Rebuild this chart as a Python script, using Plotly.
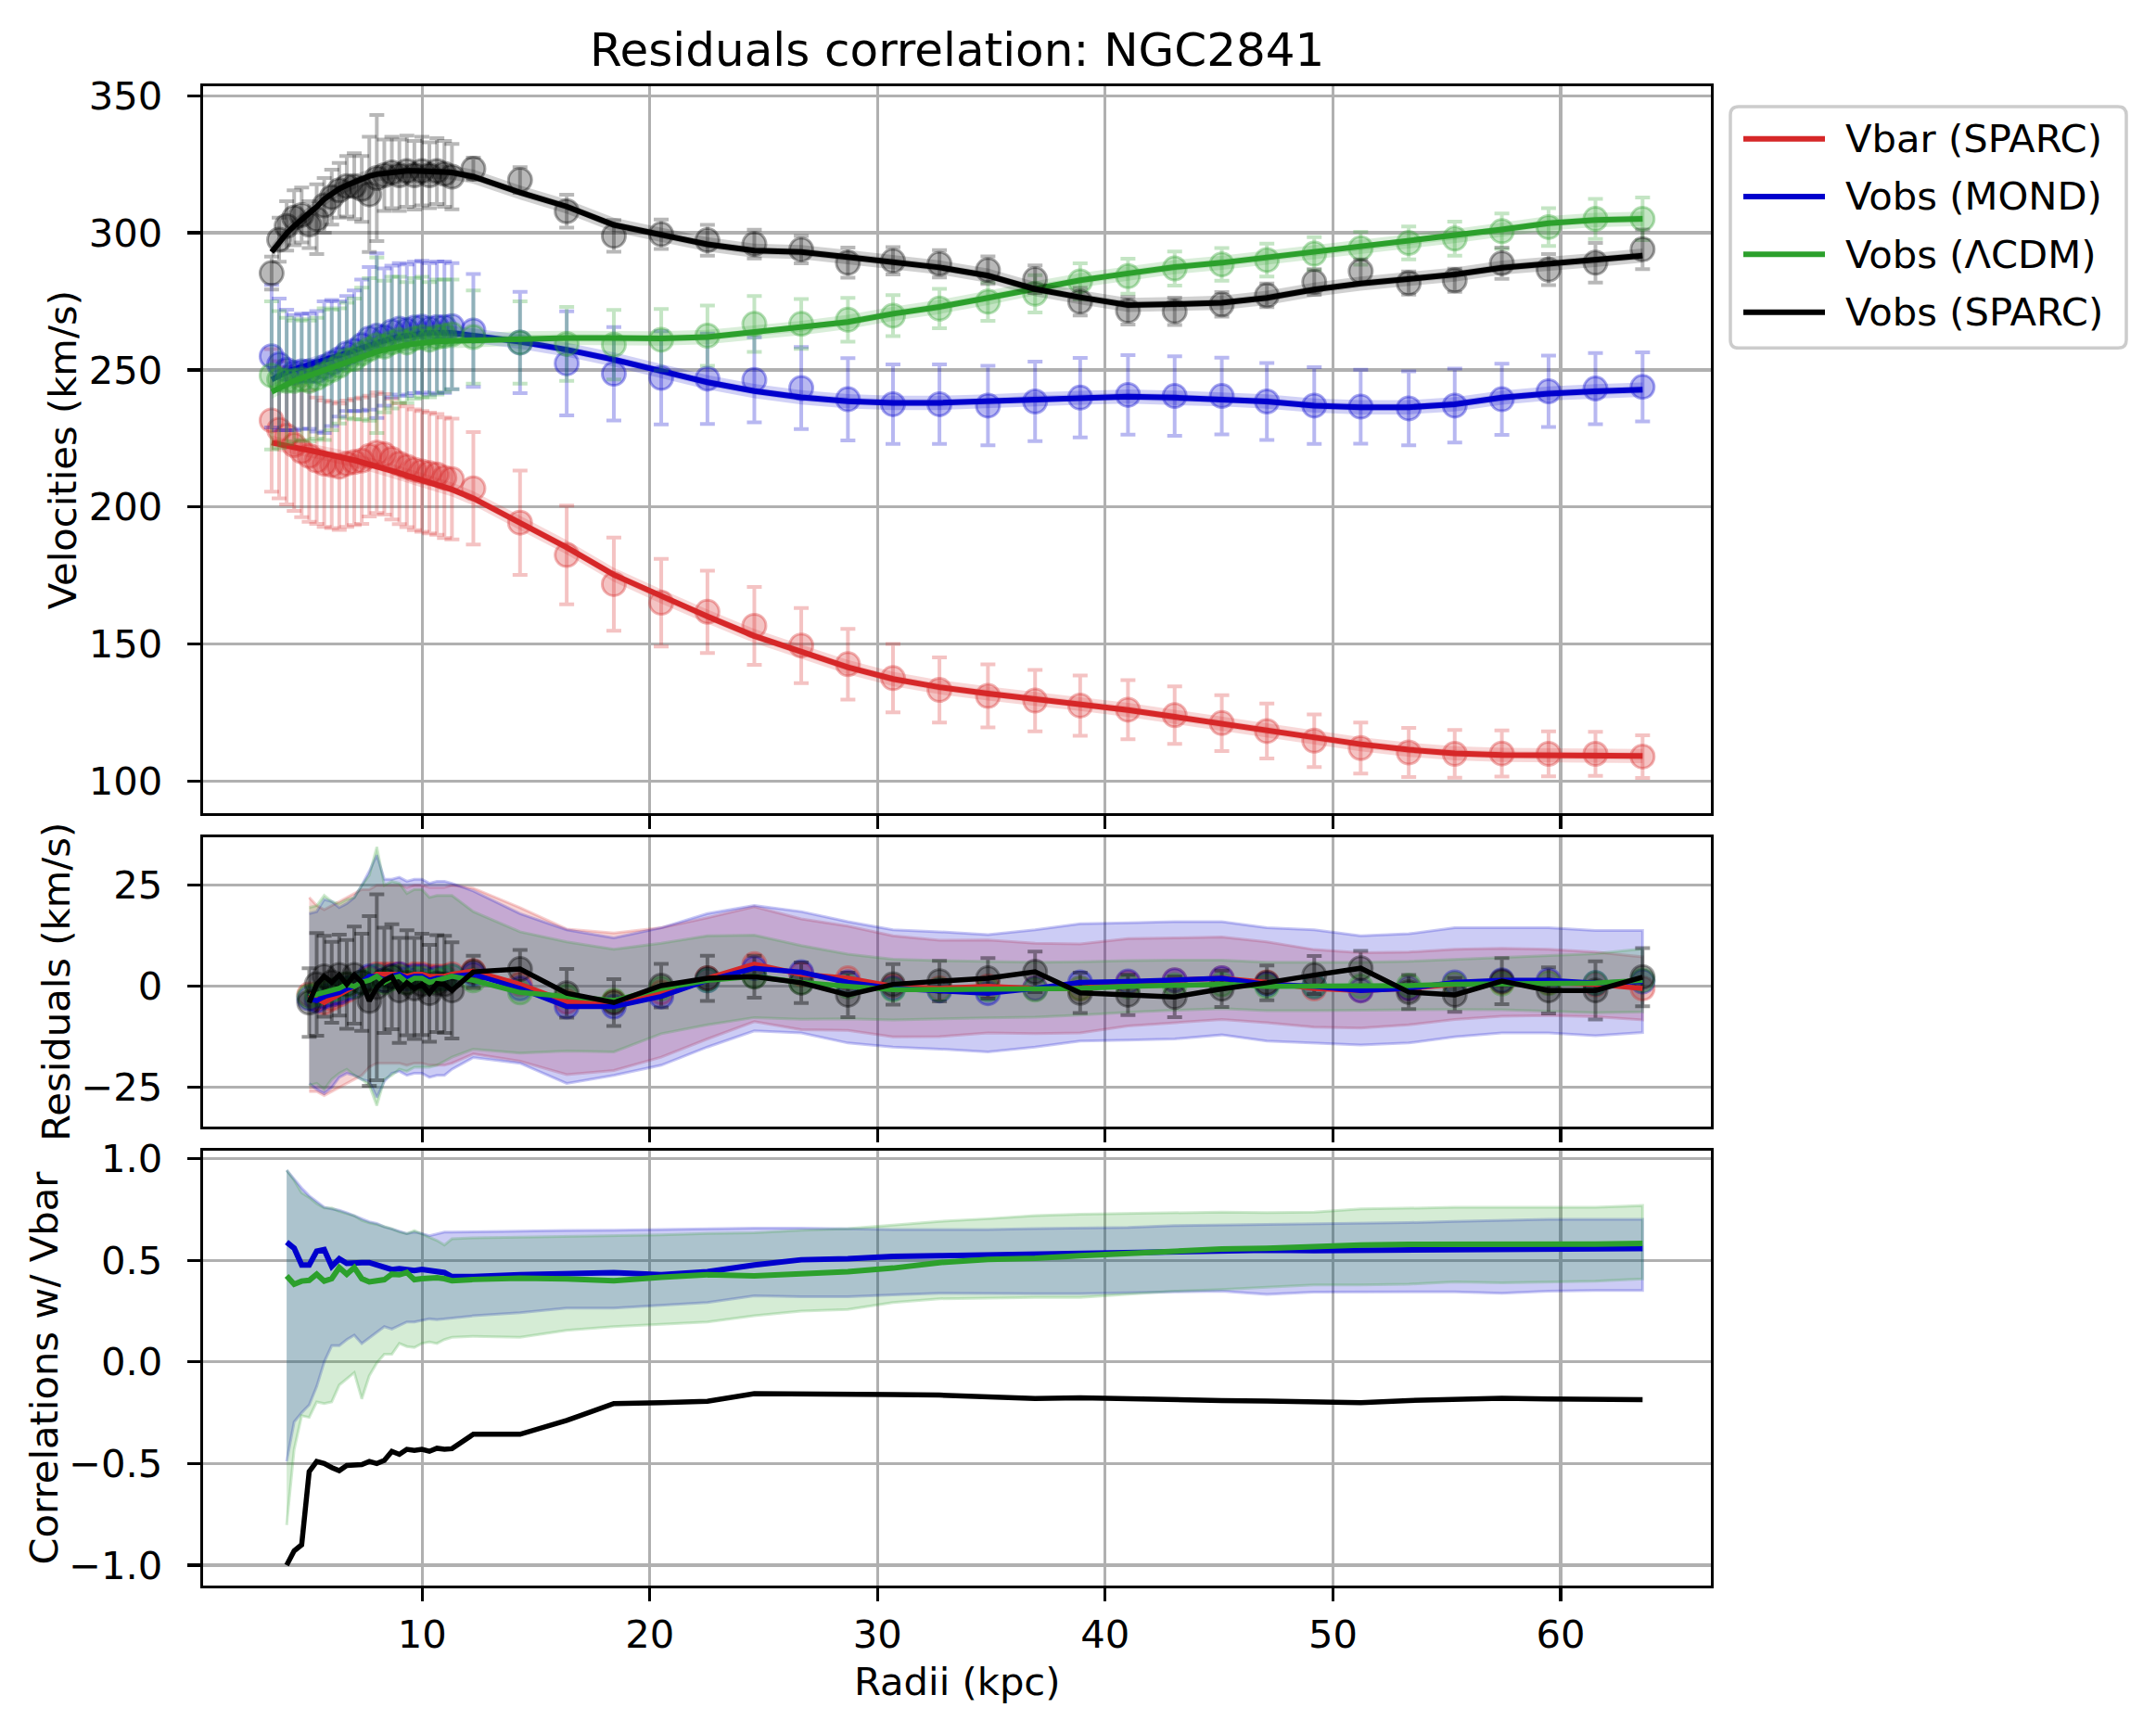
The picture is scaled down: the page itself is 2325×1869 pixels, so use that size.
import plotly.graph_objects as go

W, H = 2325, 1869

# ---------------- data ----------------
radii = [3.39, 3.72, 4.05, 4.38, 4.71, 5.04, 5.37, 5.70, 6.03, 6.36, 6.69, 7.02, 7.35, 7.68, 8.01,
         8.34, 8.67, 9.00, 9.33, 9.66, 9.99, 10.32, 10.65, 10.98, 11.31,
         12.25, 14.30, 16.35, 18.42, 20.50, 22.53, 24.59, 26.65, 28.70, 30.68, 32.72, 34.85, 36.92,
         38.90, 41.00, 43.05, 45.12, 47.10, 49.18, 51.22, 53.33, 55.35, 57.42, 59.47, 61.53, 63.60]

# Vbar (SPARC)
vbar = [231.6, 228.2, 226.0, 222.6, 220.3, 218.6, 216.9, 215.8, 215.3, 214.7, 215.8, 216.4, 216.9,
        218.6, 219.8, 219.2, 217.5, 215.8, 214.7, 213.6, 213.0, 212.4, 211.9, 210.7, 210.2,
        206.8, 194.3, 182.5, 171.9, 165.1, 161.8, 156.7, 149.5, 142.7, 137.6, 133.3, 131.1, 129.4,
        127.6, 126.1, 124.1, 121.2, 118.3, 114.8, 112.1, 110.5, 110.0, 110.1, 110.0, 110.0, 109.0]
vbar_err = [26, 25, 25, 24, 24, 24, 23, 23, 23, 23, 23, 23, 23, 22, 22, 22, 22, 22, 22, 22, 22, 22,
            22, 22, 22,
            20.5, 19, 18, 17, 16, 15, 14.2, 13.7, 12.9, 12.5, 11.9, 11.5, 11.2, 11, 10.8, 10.5, 10.2,
            10, 9.6, 9.3, 9.0, 8.7, 8.4, 8.2, 8.0, 7.8]
vbar_fit = [223.5, 222.8, 222.2, 221.7, 221.2, 220.7, 220.2, 219.6, 219.0, 218.4, 217.7, 217.1, 216.4,
            215.6, 214.8, 214.0, 213.2, 212.4, 211.5, 210.6, 209.8, 209.0, 208.1, 207.2, 206.4,
            203.2, 194.2, 185.3, 175.3, 167.4, 160.1, 153.0, 147.2, 141.6, 137.3, 134.3, 132.0, 130.0,
            128.2, 126.0, 123.5, 121.0, 118.5, 116.0, 113.5, 111.5, 110.2, 109.6, 109.4, 109.3, 109.2]

# Vobs (MOND)
mond = [255.0, 252.0, 250.0, 249.0, 249.5, 249.5, 249.5, 251.0, 252.5, 254.0, 256.0, 257.0, 259.0,
        261.5, 262.5, 262.0, 264.0, 265.0, 264.5, 265.5, 265.8, 265.0, 265.6, 265.6, 266.0,
        264.4, 260.0, 252.4, 248.6, 247.1, 246.8, 246.4, 243.4, 239.3, 237.5, 237.5, 237.0, 238.5,
        239.9, 240.9, 240.5, 240.5, 238.5, 237.0, 236.6, 236.0, 237.0, 239.3, 242.2, 243.2, 243.8]
mond_err = [26, 24, 22, 21, 21, 21, 22, 24, 23, 21, 21, 22, 24, 26, 30, 25, 24, 24, 24, 24, 24, 24,
            24, 24, 23,
            20.6, 18.5, 19, 17, 17, 16.5, 15.5, 15, 15, 14.5, 14.5, 14.5, 14.5, 14.5, 14.5, 14.5, 14,
            14, 14, 13.5, 13.5, 13.5, 13, 13, 13, 12.6]
mond_fit = [246.5, 248.0, 249.2, 250.2, 251.0, 251.8, 252.6, 253.4, 254.3, 255.2, 256.1, 257.0, 258.0,
            259.0, 260.0, 260.8, 261.5, 262.1, 262.6, 263.0, 263.3, 263.5, 263.6, 263.6, 263.5,
            262.5, 260.3, 257.4, 253.8, 249.6, 245.5, 242.3, 240.0, 238.6, 238.0, 238.0, 238.5, 239.3,
            239.9, 240.3, 239.9, 239.3, 238.5, 237.0, 236.4, 236.4, 237.5, 239.9, 241.4, 242.2, 242.8]

# Vobs (LCDM)
lcdm = [248.0, 246.5, 246.0, 246.0, 246.5, 246.0, 247.0, 248.5, 250.0, 251.5, 253.5, 254.0, 256.0,
        257.5, 259.0, 258.5, 260.0, 261.0, 260.0, 261.5, 262.0, 261.0, 262.0, 262.5, 263.0,
        262.0, 260.0, 259.5, 259.2, 261.0, 262.5, 266.8, 266.8, 268.3, 269.8, 272.4, 274.9, 277.8,
        282.3, 284.2, 287.0, 288.5, 290.1, 292.4, 294.4, 296.3, 297.9, 300.6, 302.1, 305.1, 305.1]
lcdm_err = [27, 25, 23, 22, 22, 22, 22, 24, 22, 21, 21, 22, 24, 26, 32, 24, 24, 23, 22, 22, 22, 21,
            21, 20.5, 20,
            17, 15, 13.5, 12.7, 11.2, 11, 10.2, 9.1, 8, 7.5, 7.2, 7.0, 6.8, 6.6, 6.4, 6.2, 6.0, 6.0,
            6.0, 6.0, 6.0, 6.2, 6.5, 6.9, 7.3, 7.8]
lcdm_fit = [242.0, 243.5, 244.8, 246.0, 247.0, 248.0, 249.0, 250.0, 251.0, 252.0, 253.0, 254.0, 254.9,
            255.8, 256.6, 257.3, 258.0, 258.6, 259.1, 259.5, 259.9, 260.2, 260.4, 260.5, 260.6,
            260.8, 261.5, 261.7, 261.7, 261.5, 262.0, 263.7, 265.3, 267.5, 270.5, 273.0, 276.3, 279.8,
            282.7, 285.2, 287.5, 289.1, 291.0, 293.0, 294.9, 296.9, 298.8, 301.2, 303.5, 304.7, 305.1]

# Vobs (SPARC)
vobs = [285.3, 297.5, 302.5, 305.5, 306.5, 303.0, 305.0, 310.0, 313.0, 315.5, 317.0, 317.0, 316.0,
        314.0, 320.0, 321.0, 322.0, 321.0, 322.5, 321.0, 322.5, 321.0, 322.5, 321.5, 320.5,
        323.4, 319.3, 307.9, 298.9, 299.5, 297.3, 295.9, 293.9, 289.1, 289.8, 288.7, 286.4, 283.1,
        274.9, 271.6, 271.4, 273.9, 277.2, 282.1, 286.0, 281.7, 282.7, 288.9, 286.6, 289.1, 294.0]
vobs_err = [6, 8, 9, 10, 10, 8.5, 12.7, 10, 10, 10, 11, 12, 12, 21, 23, 13, 13, 13, 13, 12.5, 12.5, 12,
            12, 12, 11.9,
            4, 4.7, 6, 5.8, 5.4, 5.6, 5.2, 5, 5.5, 5, 5, 5, 5, 5, 5, 5, 4.5, 4.3, 4.7, 4.3, 4.2, 4.2,
            5.7, 5.7, 7.2, 7.2]
vobs_fit = [293.0, 296.6, 299.8, 302.5, 304.8, 307.0, 309.5, 312.3, 314.4, 316.1, 317.4, 318.6, 319.7,
            320.7, 321.4, 321.8, 322.1, 322.4, 322.6, 322.6, 322.6, 322.5, 322.4, 322.2, 322.0,
            320.5, 314.7, 309.6, 302.9, 299.3, 295.8, 293.5, 293.0, 291.2, 289.3, 287.4, 284.4, 279.5,
            276.5, 273.7, 274.0, 274.5, 276.3, 279.3, 281.5, 283.1, 284.8, 287.3, 288.6, 290.1, 291.7]

# half-widths (km/s) of the two uncertainty bands drawn around each fitted curve
fit_band_inner = 1.3
fit_band_outer = 2.6

# residuals (km/s), from the 6th radius onward
res_vbar = [-2, -3, -4, -3, -2, -1, 0, 1, 2, 3, 3, 3, 3, 2.5, 3, 3, 2.5, 2.5, 2.5, 3,
            3.8, 0.5, -3.8, -3.8, -1.5, 2.0, 5.5, 3.0, 2.0, 0.0, -0.5, 0.0, -0.5, -0.5, 1.0, 1.5,
            2.0, 1.0, -0.5, -1.0, -0.5, 0.5, 1.0, 1.0, 0.5, -0.5]
res_mond = [-3, -3.5, -2.5, -2, -1.5, -0.5, 0, 1, 2.5, 2.5, 1.5, 2.5, 3, 2, 2.5, 2.5, 1.5, 2, 2, 2.5,
            3.0, -0.5, -5.0, -5.0, -2.5, 1.5, 4.5, 3.5, 1.0, -0.5, -1.0, -1.7, -0.5, 1.0, 1.2, 1.5,
            2.0, 0.5, 0.0, -1.0, -0.5, 1.0, 1.5, 1.5, 0.8, 1.2]
res_lcdm = [-2.5, -2, -1.5, -1, -0.5, 0.5, 0, 1, 1.5, 2.5, 1, 2, 2.5, 1, 2, 2, 1, 1.5, 2, 2.5,
            1.5, -1.5, -2.5, -3.5, -0.5, 1.5, 2.5, 1.0, 0.0, -0.8, -0.8, -0.8, -0.8, -0.5, 0.0, 0.3,
            0.5, 0.0, 0.0, 0.0, 0.2, 0.5, 0.7, 0.8, 0.8, 1.5]
res_vobs = [-4, 0.5, 2.5, 1, 2.8, 0.5, 2.8, 1.0, -3.6, -0.2, 1.5, 2.4, -1, 0.9, -0.5, 0.5, -1.7, 0.7,
            0.5, -1,
            3.6, 4.3, -1.7, -4.0, 0.2, 2.0, 2.4, 0.9, -2.1, 0.5, 1.3, 2.0, 3.6, -1.6, -2.1, -2.6,
            -0.6, 0.9, 2.8, 4.5, -1.4, -2.1, 1.3, -1.0, -1.0, 2.3]

# correlations with Vbar, from the 3rd radius onward
corr_mond = [0.59, 0.56, 0.477, 0.477, 0.545, 0.553, 0.47, 0.508, 0.485, 0.49, 0.489, 0.489, 0.48,
             0.47, 0.455, 0.459, 0.455, 0.45, 0.455, 0.45, 0.445, 0.44, 0.42,
             0.42, 0.43, 0.435, 0.44, 0.43, 0.444, 0.477, 0.503, 0.508, 0.52, 0.523, 0.527, 0.535,
             0.541, 0.545, 0.545, 0.55, 0.55, 0.548, 0.55, 0.55, 0.55, 0.553, 0.558, 0.56, 0.558]
corr_mond_lo = [-0.49, -0.295, -0.25, -0.212, -0.121, 0.0, 0.08, 0.08, 0.11, 0.132, 0.091, 0.121,
                0.147, 0.174, 0.162, 0.18, 0.197, 0.197, 0.205, 0.212, 0.208, 0.212, 0.217,
                0.227, 0.242, 0.265, 0.265, 0.28, 0.292, 0.326, 0.321, 0.321, 0.33, 0.338, 0.338,
                0.336, 0.336, 0.341, 0.345, 0.348, 0.333, 0.344, 0.344, 0.345, 0.345, 0.338, 0.348,
                0.352, 0.352]
corr_mond_hi = [0.944, 0.90, 0.856, 0.818, 0.788, 0.762, 0.753, 0.747, 0.735, 0.72, 0.705, 0.69,
                0.682, 0.665, 0.655, 0.645, 0.632, 0.639, 0.632, 0.621, 0.629, 0.639, 0.639,
                0.641, 0.644, 0.647, 0.648, 0.652, 0.656, 0.659, 0.659, 0.655, 0.652, 0.652, 0.652,
                0.656, 0.659, 0.662, 0.671, 0.674, 0.677, 0.679, 0.682, 0.686, 0.692, 0.697, 0.702,
                0.702, 0.702]
corr_lcdm = [0.424, 0.383, 0.398, 0.402, 0.432, 0.398, 0.41, 0.465, 0.432, 0.465, 0.41, 0.394, 0.40,
             0.405, 0.432, 0.429, 0.44, 0.405, 0.41, 0.414, 0.414, 0.41, 0.40,
             0.406, 0.412, 0.409, 0.40, 0.417, 0.429, 0.424, 0.432, 0.444, 0.462, 0.489, 0.505, 0.51,
             0.523, 0.535, 0.545, 0.556, 0.56, 0.571, 0.576, 0.579, 0.579, 0.576, 0.579, 0.58, 0.583]
corr_lcdm_lo = [-0.803, -0.432, -0.265, -0.273, -0.197, -0.205, -0.197, -0.114, -0.083, -0.053,
                -0.182, -0.068, -0.005, 0.038, 0.038, 0.091, 0.076, 0.071, 0.091, 0.098, 0.091,
                0.11, 0.121,
                0.126, 0.121, 0.156, 0.174, 0.186, 0.197, 0.227, 0.25, 0.258, 0.292, 0.311, 0.314,
                0.318, 0.318, 0.333, 0.348, 0.356, 0.368, 0.379, 0.379, 0.383, 0.394, 0.389, 0.394,
                0.398, 0.409]
corr_lcdm_hi = [0.944, 0.894, 0.833, 0.81, 0.78, 0.758, 0.758, 0.742, 0.73, 0.72, 0.697, 0.685,
                0.677, 0.665, 0.656, 0.64, 0.632, 0.647, 0.629, 0.614, 0.598, 0.576, 0.606,
                0.611, 0.614, 0.617, 0.621, 0.626, 0.632, 0.636, 0.648, 0.656, 0.674, 0.692, 0.705,
                0.72, 0.727, 0.73, 0.735, 0.738, 0.735, 0.738, 0.753, 0.758, 0.761, 0.761, 0.761,
                0.762, 0.77]
corr_vobs = [-1.0, -0.93, -0.90, -0.54, -0.49, -0.50, -0.52, -0.535, -0.51, -0.51, -0.505, -0.49,
             -0.50, -0.485, -0.44, -0.455, -0.43, -0.435, -0.43, -0.44, -0.425, -0.43, -0.427,
             -0.356, -0.356, -0.288, -0.205, -0.20, -0.194, -0.156, -0.156, -0.159, -0.16, -0.163,
             -0.17, -0.18, -0.176, -0.182, -0.19, -0.19, -0.192, -0.194, -0.20, -0.19, -0.182,
             -0.179, -0.182, -0.185, -0.186]

labels = ["Vbar (SPARC)", "Vobs (MOND)", "Vobs (\u039bCDM)", "Vobs (SPARC)"]
x_ticks = [10, 20, 30, 40, 50, 60]
v_ticks = [100, 150, 200, 250, 300, 350]
res_ticks = [-25, 0, 25]
corr_ticks = [-1.0, -0.5, 0.0, 0.5, 1.0]

n = len(radii)
for arr in (vbar, vbar_err, vbar_fit, mond, mond_err, mond_fit, lcdm, lcdm_err, lcdm_fit,
            vobs, vobs_err, vobs_fit):
    assert len(arr) == n, len(arr)
for arr in (res_vbar, res_mond, res_lcdm, res_vobs):
    assert len(arr) == n - 5, len(arr)
for arr in (corr_mond, corr_mond_lo, corr_mond_hi, corr_lcdm, corr_lcdm_lo, corr_lcdm_hi, corr_vobs):
    assert len(arr) == n - 2, len(arr)

# ---------------- styling ----------------
RED = (214, 39, 40)
BLUE = (0, 0, 205)
GREEN = (44, 160, 44)
BLACK = (0, 0, 0)
FONT = "DejaVu Sans"
FS = 41.7


def rgba(c, a):
    return f"rgba({c[0]},{c[1]},{c[2]},{a})"


def px_x(x):
    return x / W


def px_y(y):
    return 1 - y / H


fig = go.Figure()


def band(x, lo, hi, c, xa, ya, fill_a=0.2, edge_a=0.0, edge_w=0):
    fig.add_trace(go.Scatter(
        x=list(x) + list(x)[::-1], y=list(hi) + list(lo)[::-1], mode="lines",
        fill="toself", fillcolor=rgba(c, fill_a),
        line=dict(color=rgba(c, edge_a), width=edge_w),
        hoverinfo="skip", showlegend=False, xaxis=xa, yaxis=ya))


series = [
    (labels[0], vbar, vbar_err, vbar_fit, res_vbar, RED),
    (labels[1], mond, mond_err, mond_fit, res_mond, BLUE),
    (labels[2], lcdm, lcdm_err, lcdm_fit, res_lcdm, GREEN),
    (labels[3], vobs, vobs_err, vobs_fit, res_vobs, BLACK),
]

# ---------------- top panel ----------------
for name, d, e, f, res, c in series:
    fig.add_trace(go.Scatter(
        x=radii, y=d, mode="markers", name=name, showlegend=False,
        marker=dict(size=25, color=rgba(c, 0.28), line=dict(color=rgba(c, 0.35), width=3)),
        error_y=dict(type="data", array=e, visible=True, color=rgba(c, 0.28), thickness=4, width=8),
        xaxis="x", yaxis="y"))
    for w in (fit_band_outer, fit_band_inner):
        band(radii, [v - w for v in f], [v + w for v in f], c, "x", "y", fill_a=0.18)
    fig.add_trace(go.Scatter(
        x=radii, y=f, mode="lines", name=name, showlegend=False,
        line=dict(color=rgba(c, 1), width=6), xaxis="x", yaxis="y"))

# ---------------- middle panel ----------------
rx = radii[5:]
for name, d, e, f, res, c in series[:3]:
    ee = e[5:]
    band(rx, [r - s for r, s in zip(res, ee)], [r + s for r, s in zip(res, ee)], c, "x2", "y2",
         fill_a=0.2, edge_a=0.22, edge_w=3)
for name, d, e, f, res, c in series:
    kw = {}
    if c == BLACK:
        kw["error_y"] = dict(type="data", array=e[5:], visible=True, color=rgba(c, 0.4),
                             thickness=4, width=8)
    fig.add_trace(go.Scatter(
        x=rx, y=res, mode="markers", showlegend=False,
        marker=dict(size=25, color=rgba(c, 0.3), line=dict(color=rgba(c, 0.35), width=3)),
        xaxis="x2", yaxis="y2", **kw))
for name, d, e, f, res, c in series:
    fig.add_trace(go.Scatter(
        x=rx, y=res, mode="lines", showlegend=False,
        line=dict(color=rgba(c, 1), width=5.5), xaxis="x2", yaxis="y2"))

# ---------------- bottom panel ----------------
cx = radii[2:]
band(cx, corr_mond_lo, corr_mond_hi, BLUE, "x3", "y3", fill_a=0.2, edge_a=0.22, edge_w=3)
band(cx, corr_lcdm_lo, corr_lcdm_hi, GREEN, "x3", "y3", fill_a=0.2, edge_a=0.22, edge_w=3)
fig.add_trace(go.Scatter(x=cx, y=corr_mond, mode="lines", showlegend=False,
                         line=dict(color=rgba(BLUE, 1), width=6), xaxis="x3", yaxis="y3"))
fig.add_trace(go.Scatter(x=cx, y=corr_lcdm, mode="lines", showlegend=False,
                         line=dict(color=rgba(GREEN, 1), width=6), xaxis="x3", yaxis="y3"))
fig.add_trace(go.Scatter(x=cx, y=corr_vobs, mode="lines", showlegend=False,
                         line=dict(color=rgba(BLACK, 1), width=5.5), xaxis="x3", yaxis="y3"))

# ---------------- axes ----------------
axis_common = dict(
    showline=True, linecolor="black", linewidth=3.3, mirror=True,
    ticks="outside", ticklen=14, tickwidth=3.3, tickcolor="black",
    showgrid=True, gridcolor="#b0b0b0", gridwidth=3.3, zeroline=False,
    tickfont=dict(family=FONT, size=FS, color="black"),
)
x_dom = [px_x(219), px_x(1845)]
x_rng = [0.38, 66.6]
top_dom = [px_y(870), px_y(78)]
mid_dom = [px_y(1211), px_y(896)]
bot_dom = [px_y(1711), px_y(1238)]

fig.update_layout(
    width=W, height=H, margin=dict(l=0, r=0, t=0, b=0),
    paper_bgcolor="white", plot_bgcolor="white", showlegend=False,
    xaxis=dict(axis_common, domain=x_dom, range=x_rng, anchor="y", tickvals=x_ticks,
               showticklabels=False),
    xaxis2=dict(axis_common, domain=x_dom, range=x_rng, anchor="y2", tickvals=x_ticks,
                showticklabels=False),
    xaxis3=dict(axis_common, domain=x_dom, range=x_rng, anchor="y3", tickvals=x_ticks),
    yaxis=dict(axis_common, domain=top_dom, range=[88.3, 353.4], anchor="x", tickvals=v_ticks,
               ticklabelstandoff=18),
    yaxis2=dict(axis_common, domain=mid_dom, range=[-34.6, 36.9], anchor="x2", tickvals=res_ticks,
                ticklabelstandoff=18),
    yaxis3=dict(axis_common, domain=bot_dom, range=[-1.099, 1.038], anchor="x3",
                tickvals=corr_ticks, tickformat=".1f", ticklabelstandoff=18),
)

# ---------------- text ----------------
ann = []
ann.append(dict(text="Residuals correlation: NGC2841", x=px_x(1032), y=px_y(38), xref="paper",
                yref="paper", showarrow=False, xanchor="center", yanchor="middle",
                font=dict(family=FONT, size=50, color="black")))
ann.append(dict(text="Radii (kpc)", x=px_x(1032), y=px_y(1816), xref="paper", yref="paper",
                showarrow=False, xanchor="center", yanchor="middle",
                font=dict(family=FONT, size=FS, color="black")))
for txt, xc, ys in (("Velocities (km/s)", 67, (78 + 870) / 2),
                    ("Residuals (km/s)", 61, (896 + 1211) / 2),
                    ("Correlations w/ Vbar", 48, (1238 + 1711) / 2)):
    ann.append(dict(text=txt, x=px_x(xc), y=px_y(ys), xref="paper", yref="paper", showarrow=False,
                    xanchor="center", yanchor="middle", textangle=-90,
                    font=dict(family=FONT, size=FS, color="black")))

# legend (drawn manually to match the reference's layout)
lx0, lx1, ly0, ly1 = 1866, 2293, 100, 363
r_px = 9
rxp, ryp = r_px / W, r_px / H
X0, X1, Y0, Y1 = px_x(lx0), px_x(lx1), px_y(ly1), px_y(ly0)
path = (f"M{X0 + rxp},{Y0} L{X1 - rxp},{Y0} Q{X1},{Y0} {X1},{Y0 + ryp} L{X1},{Y1 - ryp} "
        f"Q{X1},{Y1} {X1 - rxp},{Y1} L{X0 + rxp},{Y1} Q{X0},{Y1} {X0},{Y1 - ryp} "
        f"L{X0},{Y0 + ryp} Q{X0},{Y0} {X0 + rxp},{Y0} Z")
shapes = [dict(type="path", path=path, xref="paper", yref="paper",
               line=dict(color="rgba(204,204,204,1)", width=3.5), fillcolor="rgba(255,255,255,0.8)")]
for k, (name, d, e, f, res, c) in enumerate(series):
    yy = px_y(135 + 63 * k)
    shapes.append(dict(type="line", xref="paper", yref="paper", x0=px_x(1880), x1=px_x(1968),
                       y0=yy, y1=yy, line=dict(color=rgba(c, 1), width=6)))
    ann.append(dict(text=name, x=px_x(1988), y=yy, xref="paper", yref="paper", showarrow=False,
                    xanchor="left", yanchor="middle",
                    font=dict(family=FONT, size=FS, color="black")))

fig.update_layout(annotations=ann, shapes=shapes)
fig.write_html(
    "out.html",
    config={"displayModeBar": False, "staticPlot": True},
    post_script=(
        "document.documentElement.style.margin='0';"
        "document.body.style.margin='0';document.body.style.padding='0';"
        "document.documentElement.style.overflow='hidden';document.body.style.overflow='hidden';"
        "var gd=document.getElementById('{plot_id}');"
        "gd.style.position='fixed';gd.style.left='0px';gd.style.top='0px';"
    ),
)
